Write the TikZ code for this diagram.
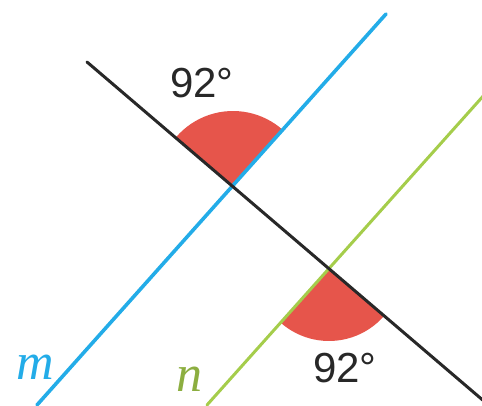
\documentclass[tikz,border=0pt]{standalone}
\usepackage{fontspec}
\setmainfont{Liberation Sans}
\newfontfamily\letterfont{Liberation Serif}
\usepackage{tikz}
\usetikzlibrary{positioning}
\definecolor{lineblue}{RGB}{35,172,232}
\definecolor{linegreen}{RGB}{165,205,75}
\definecolor{anglered}{RGB}{230,85,75}
\definecolor{lineblack}{RGB}{40,40,40}

\begin{document}
\begin{tikzpicture}[
  x=1pt,y=1pt,
  line m/.style={lineblue,line width=3.6pt,line cap=round},
  line n/.style={linegreen,line width=3pt,line cap=round},
  transversal/.style={lineblack,line width=3pt,line cap=round},
  sector/.style={fill=anglered},
  angle label/.style={font=\fontsize{42}{46}\selectfont,text=lineblack},
  line label/.style={font=\letterfont\itshape\fontsize{52}{56}\selectfont}
]
\useasboundingbox (0,0) rectangle (482,405);
% intersections
\coordinate (A) at (233,219);
\coordinate (B) at (329,137);
% line ends
\coordinate (m0) at (37,0);
\coordinate (m1) at (386,391);
\coordinate (n0) at (207,0);
\coordinate (n1) at (485,311);
\coordinate (t0) at (87,343);
\coordinate (t1) at (485,3);
% angles
\fill[sector] (A) -- ++(48.2:75) arc[start angle=48.2,end angle=139.5,radius=75] -- cycle;
\fill[sector] (B) -- ++(228.2:73) arc[start angle=228.2,end angle=319.5,radius=73] -- cycle;
% lines
\draw[line m] (m0) -- (m1);
\draw[line n] (n0) -- (n1);
\draw[transversal] (t0) -- (t1);
% labels
\node[angle label] (top92) at (202,322) {92°};
\node[angle label] (bot92) at (345,37) {92°};
\node[line label,text=lineblue] (mlab) at (35,38) {m};
\node[line label,text=linegreen!85!black] (nlab) at (189,26) {n};
\end{tikzpicture}
\end{document}
